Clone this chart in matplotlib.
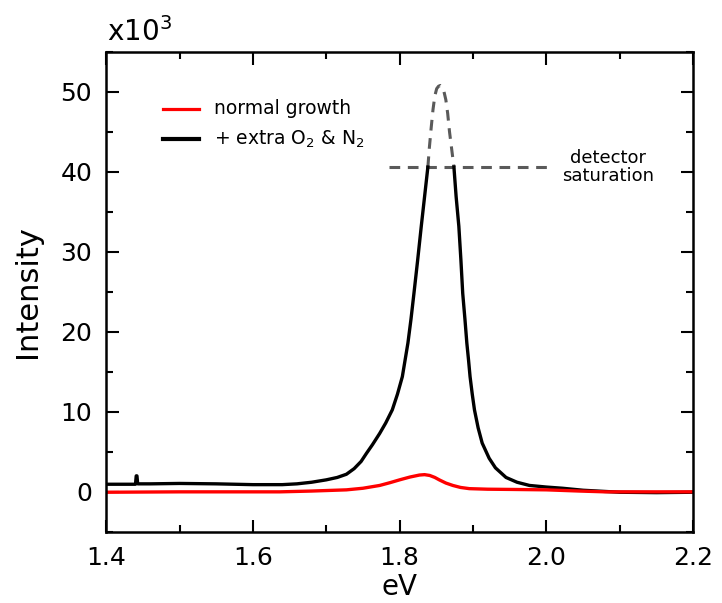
import matplotlib
matplotlib.use("Agg")
import matplotlib.pyplot as plt
from matplotlib.ticker import MultipleLocator, FormatStrFormatter

# photon energy (eV) and intensity (x10^3 counts)
ev_normal = [1.40, 1.50, 1.60, 1.6367, 1.68, 1.7275, 1.75, 1.7728, 1.787, 1.80,
             1.814, 1.827, 1.834, 1.841, 1.848, 1.854, 1.863, 1.8725, 1.883, 1.895,
             1.92, 1.954, 2.00, 2.045, 2.08, 2.20]
int_normal = [-0.05, 0.0, 0.0, 0.0, 0.1, 0.25, 0.45, 0.8, 1.15, 1.5,
              1.85, 2.1, 2.15, 2.05, 1.8, 1.5, 1.1, 0.8, 0.55, 0.4,
              0.33, 0.3, 0.25, 0.1, 0.0, 0.0]

ev_extra = [1.40, 1.440, 1.441, 1.442, 1.443, 1.46, 1.50, 1.55, 1.60, 1.64, 1.66,
            1.68, 1.70, 1.715, 1.7275, 1.738, 1.7475, 1.7547, 1.763, 1.7728, 1.781,
            1.790, 1.797, 1.8037, 1.8113, 1.8155, 1.8195, 1.8245, 1.8295, 1.834,
            1.8385]
int_extra = [0.95, 0.95, 2.0, 2.0, 1.0, 1.0, 1.05, 1.0, 0.9, 0.9, 1.0,
             1.2, 1.5, 1.8, 2.2, 2.9, 3.8, 4.8, 5.9, 7.3, 8.6,
             10.25, 12.2, 14.4, 18.6, 21.6, 24.8, 28.9, 33.2, 36.9,
             40.6]
ev_extra_hi = [1.874, 1.877, 1.8807, 1.8835, 1.886, 1.889, 1.8916, 1.894, 1.896,
               1.899, 1.902, 1.907, 1.9125, 1.922, 1.9306, 1.945, 1.96, 1.977,
               2.00, 2.022, 2.05, 2.10, 2.15, 2.20]
int_extra_hi = [40.6, 36.9, 33.2, 29.0, 24.8, 21.6, 18.6, 16.4, 14.4,
                12.2, 10.25, 8.0, 6.1, 4.2, 3.0, 1.8, 1.2, 0.8,
                0.6, 0.45, 0.2, -0.05, -0.1, -0.05]

# clipped part of the peak, above detector saturation
ev_clip = [1.8385, 1.8405, 1.843, 1.8455, 1.848, 1.8505, 1.853, 1.8555, 1.858,
           1.8605, 1.863, 1.8655, 1.868, 1.871, 1.874]
int_clip = [40.6, 43.0, 45.5, 47.8, 49.5, 50.4, 50.7, 50.8, 50.6,
            50.0, 49.0, 47.3, 45.0, 42.8, 40.6]

sat_level = 40.6
sat_range = [1.786, 2.008]

fig = plt.figure(figsize=(7.22, 6.03), dpi=100)
ax = fig.add_axes([0.147, 0.118, 0.813, 0.796])

dash = (0, (3.5, 2.5))
ax.plot(ev_clip, int_clip, ls=dash, color="#5a5a5a", lw=2.2)
ax.plot(sat_range, [sat_level, sat_level], ls=dash, color="#5a5a5a", lw=2.2)
ax.plot(ev_extra, int_extra, color="black", lw=2.4)
ax.plot(ev_extra_hi, int_extra_hi, color="black", lw=2.4)
ax.plot(ev_normal, int_normal, color="red", lw=2.4)

ax.text(2.084, sat_level, "detector\nsaturation", ha="center", va="center",
        fontsize=13, linespacing=1.05)

# legend drawn as short line segments with labels
ax.plot([1.477, 1.527], [47.9, 47.9], color="red", lw=2.3)
ax.plot([1.477, 1.527], [44.1, 44.1], color="black", lw=3)
ax.text(1.547, 47.9, "normal growth", va="center", fontsize=13.5)
ax.text(1.547, 44.1, "+ extra O$_2$ & N$_2$", va="center", fontsize=13.5)

ax.set_xlim(1.4, 2.2)
ax.set_ylim(-5, 55)
ax.xaxis.set_major_locator(MultipleLocator(0.2))
ax.xaxis.set_minor_locator(MultipleLocator(0.1))
ax.yaxis.set_minor_locator(MultipleLocator(5))
ax.set_yticks([0, 10, 20, 30, 40, 50])
ax.xaxis.set_major_formatter(FormatStrFormatter("%.1f"))
ax.tick_params(which="both", direction="in", top=True, right=True, width=1.5,
               labelsize=18, pad=10)
ax.tick_params(which="major", length=9)
ax.tick_params(which="minor", length=5)
for s in ax.spines.values():
    s.set_linewidth(1.8)

ax.set_xlabel("eV", fontsize=20, labelpad=2)
ax.set_ylabel("Intensity", fontsize=22, labelpad=13)
fig.text(107 / 722, 1 - 41 / 603, "x10$^{3}$", fontsize=20, va="baseline")

fig.savefig("out.png", dpi=100)
